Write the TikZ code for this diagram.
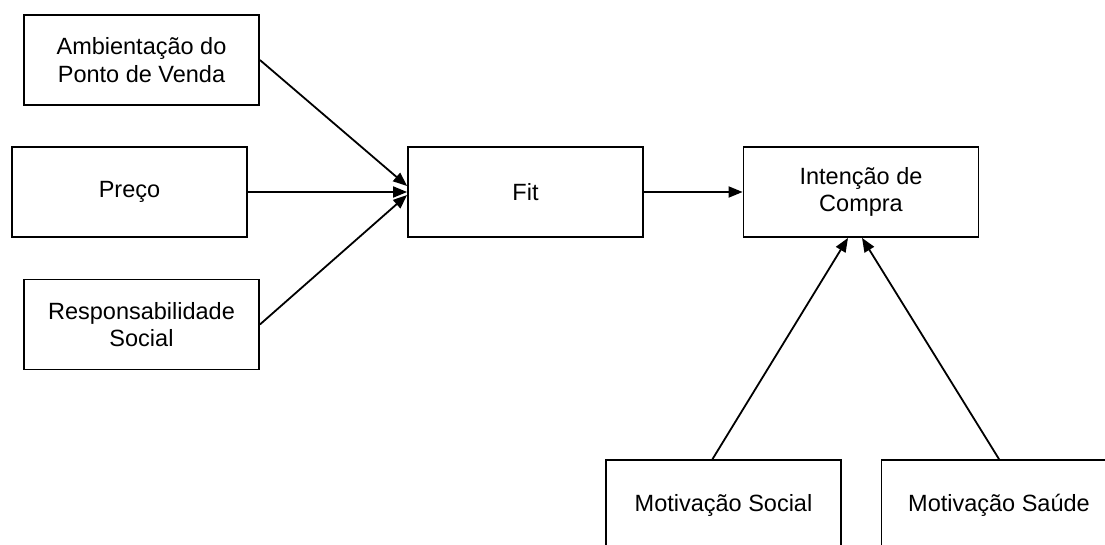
\documentclass[tikz,border=0pt]{standalone}
\usepackage{fontspec}
\setmainfont{Liberation Sans}
\usetikzlibrary{arrows.meta}

\begin{document}
\begin{tikzpicture}[
            x=1pt, y=-1pt,
            modelbox/.style={
                draw=black,
                line width=1.8pt,
                minimum width=235pt,
                minimum height=90pt,
                inner sep=0pt,
                align=center,
                font=\fontsize{23.5}{27.5}\selectfont
            },
            modelarrow/.style={
                -{Triangle[length=14pt,width=11pt]},
                line width=1.8pt,
                draw=black
            }
        ]

        \useasboundingbox (0,0) rectangle (1105,545);
        \clip (0,0) rectangle (1105,545);

        % --- Antecedents ---
        \node[modelbox] (ambiente) at (141.5,60)
            {Ambientação do\\Ponto de Venda};

        \node[modelbox] (preco) at (129.5,192)
            {Preço};

        \node[modelbox] (responsab) at (141.5,324.5)
            {Responsabilidade\\Social};

        % --- Fit and purchase intention ---
        \node[modelbox] (fit) at (525.5,192)
            {Fit};

        \node[modelbox] (intencao) at (861,192)
            {Intenção de\\Compra};

        % --- Motivations ---
        \node[modelbox] (motsocial) at (723.5,505)
            {Motivação Social};

        \node[modelbox] (motsaude) at (999,505)
            {Motivação Saúde};

        \draw[modelarrow] (ambiente.east) -- ([yshift=6pt]fit.west);
        \draw[modelarrow] (preco.east) -- (fit.west);
        \draw[modelarrow] (responsab.east) -- ([yshift=-3pt]fit.west);
        \draw[modelarrow] (fit.east) -- (intencao.west);
        \draw[modelarrow] ([xshift=-11pt]motsocial.north) -- ([xshift=-13pt]intencao.south);
        \draw[modelarrow] (motsaude.north) -- ([xshift=1pt]intencao.south);

        \end{tikzpicture}
\end{document}
